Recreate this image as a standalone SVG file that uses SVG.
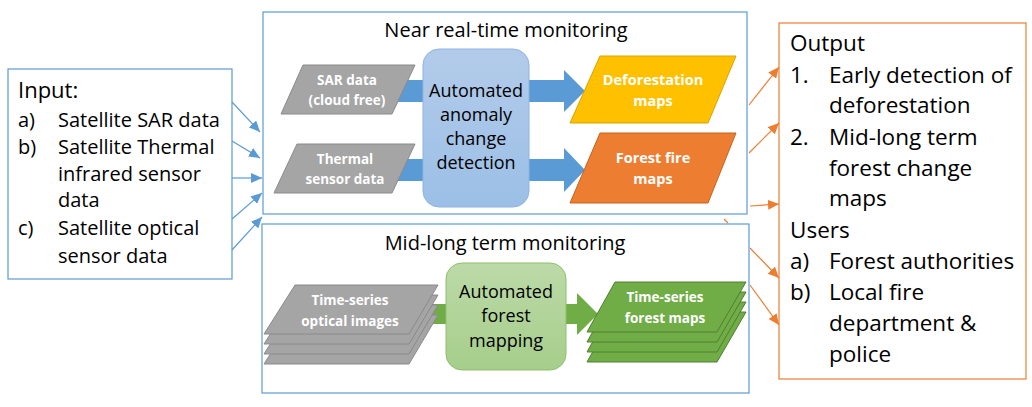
<svg xmlns="http://www.w3.org/2000/svg" width="1032" height="407" viewBox="0 0 1032 407">
<defs>
<linearGradient id="gBlue" x1="0" y1="0" x2="0" y2="1"><stop offset="0" stop-color="#B3CBEA"/><stop offset="1" stop-color="#9BBFE6"/></linearGradient>
<linearGradient id="gGreen" x1="0" y1="0" x2="0" y2="1"><stop offset="0" stop-color="#BCDAA8"/><stop offset="1" stop-color="#A6CE8B"/></linearGradient>
<marker id="mBlue" markerUnits="userSpaceOnUse" markerWidth="12" markerHeight="10" refX="11" refY="5" orient="auto"><path d="M0,0 L11,5 L0,10 Z" fill="#5B9BD5"/></marker>
<marker id="mOrange" markerUnits="userSpaceOnUse" markerWidth="12" markerHeight="10" refX="11" refY="5" orient="auto"><path d="M0,0 L11,5 L0,10 Z" fill="#ED7D31"/></marker>
</defs>
<style>
text{font-family:"Open Sans","Liberation Sans",sans-serif;fill:#000}
.box{fill:#fff;stroke:#5B9BD5;stroke-width:1.2}
.obox{fill:#fff;stroke:#ED7D31;stroke-width:1.2}
.lst{font-size:20px}
.out{font-size:22.5px}
.ttl{font-size:20px;text-anchor:middle}
.proc{font-size:18px;text-anchor:middle}
.lbl{font-size:13.5px;font-weight:bold;fill:#fff;text-anchor:middle}
.gray{fill:#A5A5A5;stroke:#8A8A8A;stroke-width:1}
.green{fill:#70AD47;stroke:#507E32;stroke-width:1}
.bc{stroke:#5B9BD5;stroke-width:1.2;fill:none;marker-end:url(#mBlue)}
.oc{stroke:#ED7D31;stroke-width:1.2;fill:none;marker-end:url(#mOrange)}
</style>
<g id="input">
<rect class="box" x="8" y="69" width="224" height="210"/>
<text class="lst" x="18" y="98" style="font-size:22px">Input:</text>
<text class="lst" x="18" y="127">a)</text><text class="lst" x="58" y="127">Satellite SAR data</text>
<text class="lst" x="18" y="154">b)</text><text class="lst" x="58" y="154">Satellite Thermal</text>
<text class="lst" x="58" y="181">infrared sensor</text>
<text class="lst" x="58" y="207">data</text>
<text class="lst" x="18" y="235">c)</text><text class="lst" x="58" y="235">Satellite optical</text>
<text class="lst" x="58" y="263">sensor data</text>
</g>
<g id="near-real-time">
<rect class="box" x="263" y="12" width="484" height="202"/>
<text class="ttl" x="506" y="37">Near real-time monitoring</text>
</g>
<g id="mid-long-term">
<rect class="box" x="262" y="224" width="487" height="169"/>
<text class="ttl" x="505" y="250">Mid-long term monitoring</text>
</g>
<g id="output">
<rect class="obox" x="779" y="23" width="247" height="356"/>
<text class="out" x="790" y="51">Output</text>
<text class="out" x="790" y="83">1.</text><text class="out" x="829" y="83">Early detection of</text>
<text class="out" x="829" y="113">deforestation</text>
<text class="out" x="790" y="145">2.</text><text class="out" x="829" y="145">Mid-long term</text>
<text class="out" x="829" y="176">forest change</text>
<text class="out" x="829" y="206">maps</text>
<text class="out" x="790" y="238">Users</text>
<text class="out" x="790" y="269">a)</text><text class="out" x="829" y="269">Forest authorities</text>
<text class="out" x="790" y="300">b)</text><text class="out" x="829" y="300">Local fire</text>
<text class="out" x="829" y="331">department &amp;</text>
<text class="out" x="829" y="362">police</text>
</g>
<g id="connectors">
<path class="bc" d="M232,102 L260,132"/>
<path class="bc" d="M232,141 L260,158"/>
<path class="bc" d="M232,178 L262,178"/>
<path class="bc" d="M232,219 L262,193"/>
<path class="bc" d="M232,250 L262,217"/>
<path class="oc" d="M749,105 L779,67"/>
<path class="oc" d="M749,153 L779,123"/>
<path class="oc" d="M750,206 L779,204"/>
<path class="oc" d="M724,219 L728,223 M750,248 L779,278"/>
<path class="oc" d="M750,285 L779,325"/>
<path fill="#5B9BD5" d="M395,80 L564,80 L564,70 L585,91 L564,112 L564,102 L395,102 Z"/>
<path fill="#5B9BD5" d="M395,159 L564,159 L564,148 L585,170 L564,192 L564,181 L395,181 Z"/>
<path fill="#70AD47" d="M425,304 L577,304 L577,293 L598,314 L577,335 L577,324 L425,324 Z"/>
</g>
<g id="sar-data">
<path class="gray" d="M303,65 L415,65 L392,114 L281,114 Z"/>
<text class="lbl" x="347" y="85">SAR data</text>
<text class="lbl" x="347" y="105">(cloud free)</text>
</g>
<g id="thermal-data">
<path class="gray" d="M297,144 L415,144 L392,193 L274,193 Z"/>
<text class="lbl" x="345" y="164">Thermal</text>
<text class="lbl" x="345" y="184">sensor data</text>
</g>
<g id="anomaly-detection">
<rect x="423" y="49" width="106" height="158" rx="16" fill="url(#gBlue)" stroke="#8FB3E0" stroke-width="1"/>
<text class="proc" x="476" y="97">Automated</text>
<text class="proc" x="476" y="121">anomaly</text>
<text class="proc" x="476" y="145">change</text>
<text class="proc" x="476" y="169">detection</text>
</g>
<g id="deforestation-maps">
<path fill="#FFC000" stroke="#D9A300" stroke-width="1" d="M600,56 L736,56 L708,123 L570,123 Z"/>
<text class="lbl" x="653" y="85" style="font-size:14.5px">Deforestation</text>
<text class="lbl" x="653" y="106" style="font-size:14.5px">maps</text>
</g>
<g id="forest-fire-maps">
<path fill="#ED7D31" stroke="#C5651F" stroke-width="1" d="M600,133 L736,133 L708,203 L570,203 Z"/>
<text class="lbl" x="653" y="163" style="font-size:14.5px">Forest fire</text>
<text class="lbl" x="653" y="184" style="font-size:14.5px">maps</text>
</g>
<g id="optical-images">
<path class="gray" d="M295,315 L438,315 L409,364 L264,364 Z"/>
<path class="gray" d="M295,305 L438,305 L409,354 L264,354 Z"/>
<path class="gray" d="M295,295 L438,295 L409,344 L264,344 Z"/>
<path class="gray" d="M295,285 L438,285 L409,334 L264,334 Z"/>
<text class="lbl" x="350" y="305">Time-series</text>
<text class="lbl" x="350" y="326">optical images</text>
</g>
<g id="forest-mapping">
<rect x="446" y="263" width="120" height="107" rx="16" fill="url(#gGreen)" stroke="#8DBF6C" stroke-width="1"/>
<text class="proc" x="506" y="298">Automated</text>
<text class="proc" x="506" y="322">forest</text>
<text class="proc" x="506" y="347">mapping</text>
</g>
<g id="forest-maps">
<path class="green" d="M615,312 L746,312 L717,362 L587,362 Z"/>
<path class="green" d="M615,302 L746,302 L717,352 L587,352 Z"/>
<path class="green" d="M615,292 L746,292 L717,342 L587,342 Z"/>
<path class="green" d="M615,282 L746,282 L717,332 L587,332 Z"/>
<text class="lbl" x="665" y="302">Time-series</text>
<text class="lbl" x="665" y="323">forest maps</text>
</g>
</svg>
